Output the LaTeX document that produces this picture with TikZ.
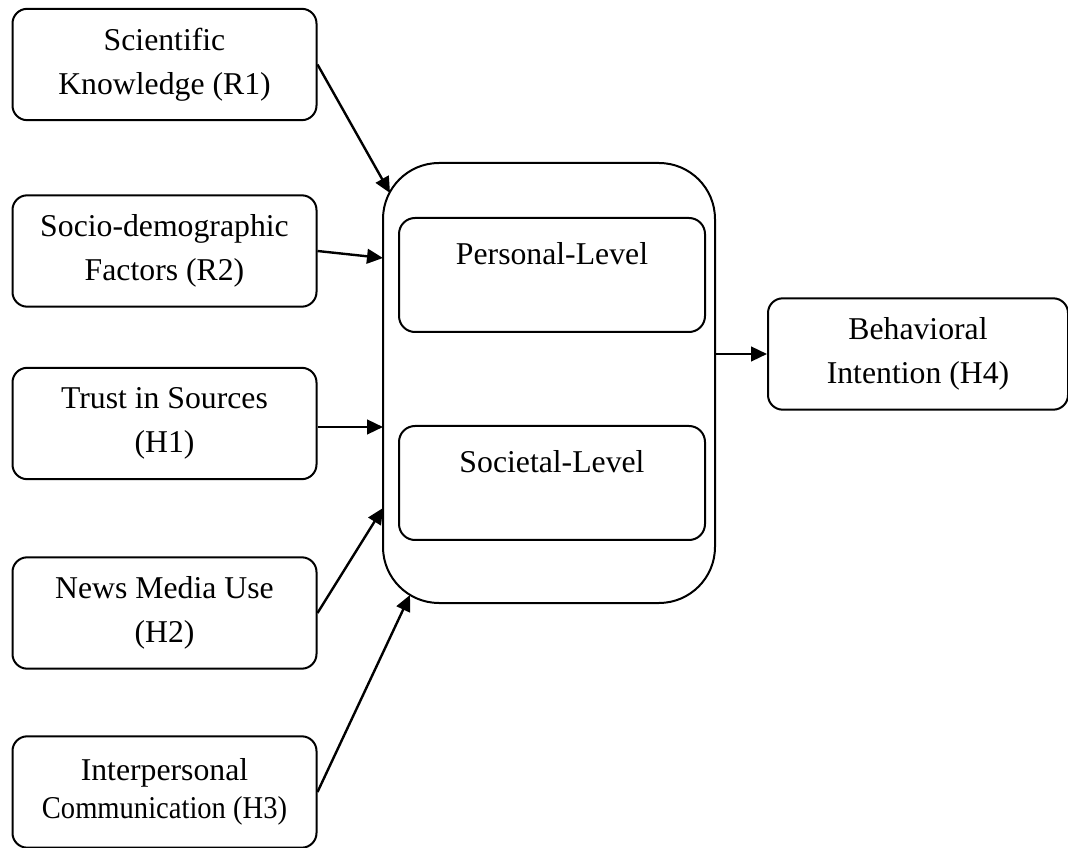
\documentclass[tikz,border=0pt]{standalone}
\usepackage{fontspec}
\setmainfont{Liberation Serif}
\usetikzlibrary{arrows.meta}

\tikzset{
    factor/.style={draw, line width=1.5pt, rounded corners=11pt, minimum width=228pt,
        minimum height=83.5pt, align=center, inner sep=0pt},
    level/.style={draw, line width=1.5pt, rounded corners=12pt, minimum width=229.5pt,
        minimum height=85.5pt, align=center, inner sep=0pt},
    link/.style={line width=1.8pt, -{Triangle[length=12pt,width=11pt]}}
}

\begin{document}
\begin{tikzpicture}[x=0.75pt, y=-0.75pt, font=\fontsize{23.8}{33}\selectfont]

    % Fix the page to the size of the reference
    \useasboundingbox (0, 0) rectangle (1068, 848);

    % Factors on the left, one below the other
    \node[factor] (sci) at (164.5, 64.5) {Scientific\\Knowledge (R1)};
    \node[factor] (socio) at (164.5, 251) {Socio-demographic\\Factors (R2)};
    \node[factor] (trust) at (164.5, 423.5) {Trust in Sources\\(H1)};
    \node[factor] (news) at (164.5, 613) {News Media Use\\(H2)};
    \node[factor] (inter) at (164.5, 792)
        {Interpersonal\\[-4pt]\scalebox{0.9}[1]{Communication (H3)}};

    % Big box holding both levels
    \node[draw, line width=1.5pt, rounded corners=42pt, minimum width=249pt,
        minimum height=330pt] (core) at (549, 383) {};

    % The two levels inside it, label near the top
    \node[level] (personal) at (552, 275) {Personal-Level\\~};
    \node[level] (societal) at (552, 483) {Societal-Level\\~};

    % Outcome on the right
    \node[factor, minimum width=225pt] (behav) at (918, 354) {Behavioral\\Intention (H4)};

    % Points where the arrows meet the big box
    \coordinate (in1) at (390, 193);
    \coordinate (in2) at (383, 258);
    \coordinate (in3) at (383, 427);
    \coordinate (in4) at (383, 508);
    \coordinate (in5) at (410, 595);

    % Arrows into the big box
    \draw[link] (sci.east) -- (in1);
    \draw[link] (socio.east) -- (in2);
    \draw[link] (trust.east |- in3) -- (in3);
    \draw[link] (news.east) -- (in4);
    \draw[link] (inter.east) -- (in5);

    % Arrow to the outcome
    \draw[link] (core.east |- behav.west) -- (behav.west);

\end{tikzpicture}
\end{document}
